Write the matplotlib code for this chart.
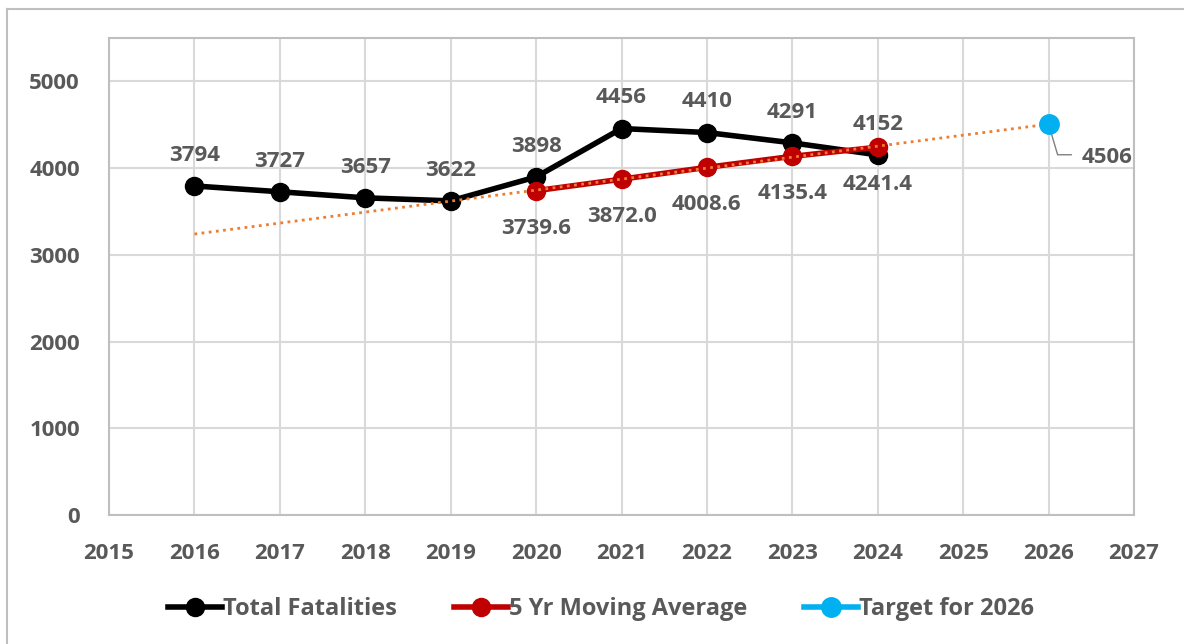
import matplotlib
matplotlib.use("Agg")
import matplotlib.pyplot as plt
import numpy as np

years = [2016, 2017, 2018, 2019, 2020, 2021, 2022, 2023, 2024]
total_fatalities = [3794, 3727, 3657, 3622, 3898, 4456, 4410, 4291, 4152]
ma_years = [2020, 2021, 2022, 2023, 2024]
moving_avg = [3739.6, 3872.0, 4008.6, 4135.4, 4241.4]
target_year = [2026]
target = [4506]
x_ticks = list(range(2015, 2028))
y_ticks = [0, 1000, 2000, 3000, 4000, 5000]

FONT = ['Open Sans', 'DejaVu Sans']
plt.rcParams['font.family'] = FONT
plt.rcParams['font.weight'] = 'bold'
TXT = '#595959'
FS = 16

W, H = 1184, 644
fig = plt.figure(figsize=(W/100, H/100), dpi=100)
ax = fig.add_axes([109/W, 1-515/H, (1134-109)/W, (515-38)/H])

# outer chart frame (top and left edges visible)
fr = dict(color='#BFBFBF', lw=1.5, transform=fig.transFigure, clip_on=False)
fig.add_artist(plt.Line2D([7/W, 1.0], [1-9/H, 1-9/H], **fr))
fig.add_artist(plt.Line2D([7/W, 7/W], [1-9/H, 0], **fr))

ax.plot(years, total_fatalities, color='black', lw=4, marker='o', ms=13,
        label='Total Fatalities', zorder=3)
ax.plot(ma_years, moving_avg, color='#C00000', lw=4, marker='o', ms=13,
        label='5 Yr Moving Average', zorder=4)
ax.plot(target_year, target, color='#00B0F0', lw=4, marker='o', ms=14,
        label='Target for 2026', zorder=6)

# linear trendline through moving average, extended forward/backward
coef = np.polyfit(ma_years, moving_avg, 1)
tx = np.array([years[0], target_year[0]])
ax.plot(tx, np.polyval(coef, tx), color='#ED7D31', lw=2,
        linestyle=(0, (1, 1.6)), zorder=5)

for x, v in zip(years, total_fatalities):
    ax.annotate(f"{v}", (x, v), xytext=(0, 22), textcoords='offset points',
                ha='center', va='center', fontsize=FS, color=TXT, fontweight='bold')
for x, v in zip(ma_years, moving_avg):
    ax.annotate(f"{v:.1f}", (x, v), xytext=(0, -27), textcoords='offset points',
                ha='center', va='center', fontsize=FS, color=TXT, fontweight='bold')

# target label with leader line
tx0, ty0 = target_year[0], target[0]
ax.annotate(f"{ty0}", (tx0, ty0), xytext=(42, -24), textcoords='offset points',
            ha='center', va='center', fontsize=FS, color=TXT, fontweight='bold')
ax.annotate('', (tx0, ty0), xytext=(16.5, -22), textcoords='offset points',
            arrowprops=dict(arrowstyle='-', color='#808080', lw=1.0,
                            shrinkA=0, shrinkB=0,
                            connectionstyle='angle,angleA=0,angleB=-73.5,rad=0'),
            zorder=5.5)

ax.set_xlim(2015, 2027)
ax.set_ylim(0, 5500)
ax.set_xticks(x_ticks)
ax.set_yticks(y_ticks)
ax.grid(True, color='#D9D9D9', lw=1.5, zorder=0)
ax.set_axisbelow(True)
for s in ax.spines.values():
    s.set_color('#BFBFBF')
    s.set_linewidth(1.5)
ax.tick_params(length=0, labelsize=FS, labelcolor=TXT)
ax.tick_params(axis='y', pad=21)
ax.tick_params(axis='x', pad=20)
for lab in ax.get_xticklabels() + ax.get_yticklabels():
    lab.set_fontweight('bold')

leg = fig.legend(loc='center', bbox_to_anchor=(601/W, 1-609/H), ncol=3, frameon=False,
                 fontsize=17, handlelength=2.3, handletextpad=0.05, columnspacing=2.4)
for t in leg.get_texts():
    t.set_color(TXT)
    t.set_fontweight('bold')

fig.savefig('out.png', dpi=100)
